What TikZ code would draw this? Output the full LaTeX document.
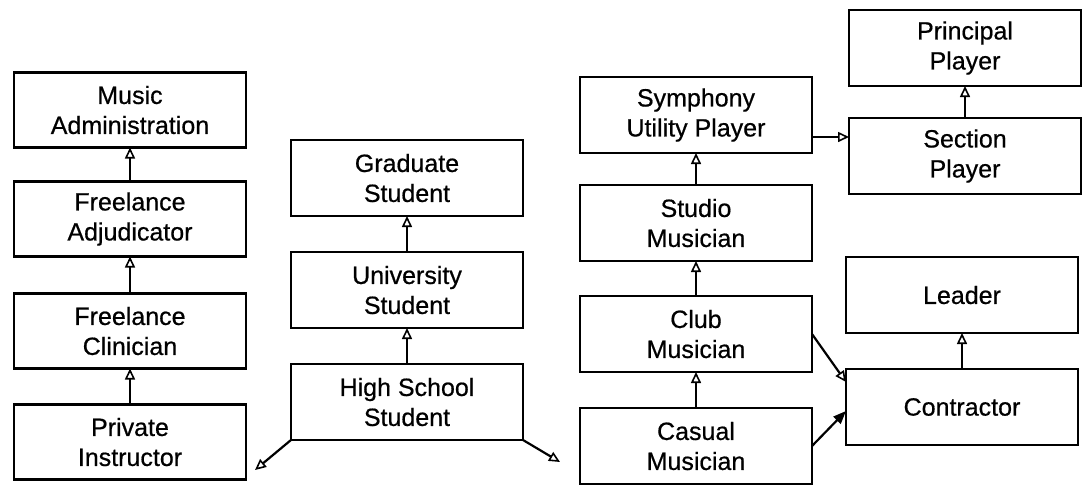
\documentclass[tikz,border=0pt]{standalone}
\usepackage{fontspec}
\setmainfont{Liberation Sans}
\newfontfamily\boxfont[FakeBold=0.6]{Liberation Sans}
\usepackage{tikz}
\usetikzlibrary{calc,positioning,arrows.meta}
\tikzset{
  line/.style={-{Triangle[open, length=11pt, width=10pt, line width=1.6pt]}, line width=2.2pt},
  fline/.style={-{Triangle[length=13pt, width=10pt]}, line width=2.2pt},
  box/.style={draw, line width=2.8pt, align=center, inner sep=0pt, outer sep=0pt,
    minimum width=232pt, minimum height=76pt,
    font=\boxfont\fontsize{25}{30}\selectfont}
}
\begin{document}
\begin{tikzpicture}[x=1pt, y=-1pt, node distance=35pt]
  \useasboundingbox (0,0) rectangle (1082,485);

  % teaching column
  \node[box, minimum height=75pt] (admin) at (130,110) {Music\\Administration};
  \node[box, minimum height=75pt, below=34pt of admin] (adjud) {Freelance\\Adjudicator};
  \node[box, minimum height=75pt, below=37pt of adjud] (clinic) {Freelance\\Clinician};
  \node[box, minimum height=75pt, below=36pt of clinic] (instr) {Private\\Instructor};

  % school column
  \node[box] (grad) at (407,178) {Graduate\\Student};
  \node[box, below=36pt of grad] (univ) {University\\Student};
  \node[box, below=36pt of univ] (high) {High School\\Student};

  % performing column
  \node[box] (symph) at (696,115) {Symphony\\Utility Player};
  \node[box, below=32pt of symph] (studio) {Studio\\Musician};
  \node[box, below=35pt of studio] (club) {Club\\Musician};
  \node[box, below=36pt of club] (casual) {Casual\\Musician};

  \node[box] (princ) at (965,48) {Principal\\Player};
  \node[box, below=32pt of princ] (sect) {Section\\Player};
  \node[box] (leader) at (962,295) {Leader};
  \node[box, below=36pt of leader] (contr) {Contractor};

  \coordinate (tipL) at (255,470);
  \coordinate (tipR) at (560,462);
  \coordinate (symout) at ($(symph.east)+(0,22)$);

  \draw[line] (adjud) -- (admin);
  \draw[line] (clinic) -- (adjud);
  \draw[line] (instr) -- (clinic);

  \draw[line] (univ) -- (grad);
  \draw[line] (high) -- (univ);
  \draw[line] (high.south west) -- (tipL);
  \draw[line] (high.south east) -- (tipR);

  \draw[line] (studio) -- (symph);
  \draw[line] (club) -- (studio);
  \draw[line] (casual) -- (club);
  \draw[line] (symout) -- (symout -| sect.west);
  \draw[line] (sect) -- (princ);
  \draw[line] (contr) -- (leader);
  \draw[line] (club.east) -- ($(contr.west)+(0,-25)$);
  \draw[fline] (casual.east) -- ($(contr.west)+(0,4)$);
\end{tikzpicture}
\end{document}
